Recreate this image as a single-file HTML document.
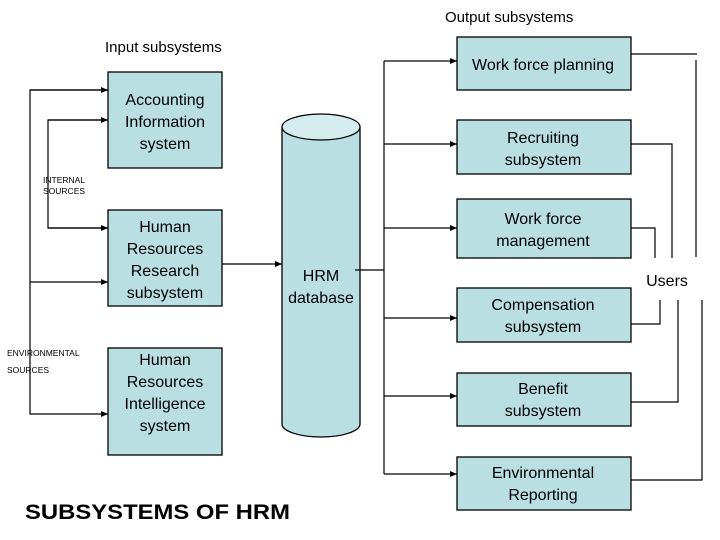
<!DOCTYPE html>
<html><head><style>
html,body{margin:0;padding:0;background:#fff;}
svg{display:block;}
text{font-family:"Liberation Sans",Arial,sans-serif;fill:#000;}
</style></head><body>
<svg width="720" height="540" viewBox="0 0 720 540" xmlns="http://www.w3.org/2000/svg">
<defs>
<marker id="a" markerWidth="8" markerHeight="8" refX="7" refY="4" orient="auto" markerUnits="userSpaceOnUse">
<path d="M0,1 L7,4 L0,7 z" fill="#000"/></marker>
</defs>
<g fill="#b9dfe2" stroke="#000" stroke-width="1.3">
<rect x="108" y="72" width="114" height="96"/>
<rect x="108" y="210" width="114" height="96"/>
<rect x="108" y="348" width="114" height="107"/>
<rect x="457" y="37" width="174" height="53"/>
<rect x="457" y="120" width="174" height="54"/>
<rect x="457" y="199" width="174" height="59"/>
<rect x="457" y="288" width="174" height="54"/>
<rect x="457" y="373" width="174" height="53"/>
<rect x="457" y="457" width="174" height="53"/>
<path d="M282,127 L282,424 A39,13 0 0 0 360,424 L360,127"/>
<ellipse cx="321" cy="127" rx="39" ry="13" fill="#d4ecee"/>
</g>
<g stroke="#000" stroke-width="1.2" fill="none">
<path d="M108,90 H30 V414 H108" marker-end="url(#a)"/>
<path d="M30,90 H108" marker-end="url(#a)"/>
<path d="M30,282 H108" marker-end="url(#a)"/>
<path d="M108,120 H48 V228 H108" />
<path d="M48,120 H108" marker-end="url(#a)"/>
<path d="M48,228 H108" marker-end="url(#a)"/>
<path d="M222,264 H282" marker-end="url(#a)"/>
<path d="M355,270 H384"/>
<path d="M384,61 V474"/>
<path d="M384,61 H457" marker-end="url(#a)"/>
<path d="M384,144 H457" marker-end="url(#a)"/>
<path d="M384,228 H457" marker-end="url(#a)"/>
<path d="M384,318 H457" marker-end="url(#a)"/>
<path d="M384,396 H457" marker-end="url(#a)"/>
<path d="M384,474 H457" marker-end="url(#a)"/>
<path d="M631,54 H697 M696,60 V257"/>
<path d="M631,144 H672 V258"/>
<path d="M631,228 H655 V258"/>
<path d="M631,324 H660 V300"/>
<path d="M631,402 H678 V300"/>
<path d="M631,480 H702 V300"/>
</g>
<g font-size="16" text-anchor="middle">
<text x="165" y="105">Accounting</text>
<text x="165" y="127">Information</text>
<text x="165" y="149">system</text>
<text x="165" y="232">Human</text>
<text x="165" y="254">Resources</text>
<text x="165" y="276">Research</text>
<text x="165" y="298">subsystem</text>
<text x="165" y="365">Human</text>
<text x="165" y="387">Resources</text>
<text x="165" y="409">Intelligence</text>
<text x="165" y="431">system</text>
<text x="321" y="281">HRM</text>
<text x="321" y="303">database</text>
<text x="543" y="70">Work force planning</text>
<text x="543" y="143">Recruiting</text>
<text x="543" y="165">subsystem</text>
<text x="543" y="224">Work force</text>
<text x="543" y="246">management</text>
<text x="543" y="310">Compensation</text>
<text x="543" y="332">subsystem</text>
<text x="543" y="394">Benefit</text>
<text x="543" y="416">subsystem</text>
<text x="543" y="478">Environmental</text>
<text x="543" y="500">Reporting</text>
<text x="667" y="286">Users</text>
</g>
<text x="105" y="52" font-size="15">Input subsystems</text>
<text x="445" y="22" font-size="15">Output subsystems</text>
<g font-size="8.5">
<text x="43" y="183">INTERNAL</text>
<text x="43" y="194">SOURCES</text>
<text x="7" y="356">ENVIRONMENTAL</text>
<text x="7" y="373">SOURCES</text>
</g>
<text x="25" y="519" font-size="21" font-weight="bold" textLength="265" lengthAdjust="spacingAndGlyphs">SUBSYSTEMS OF HRM</text>
</svg>
</body></html>
